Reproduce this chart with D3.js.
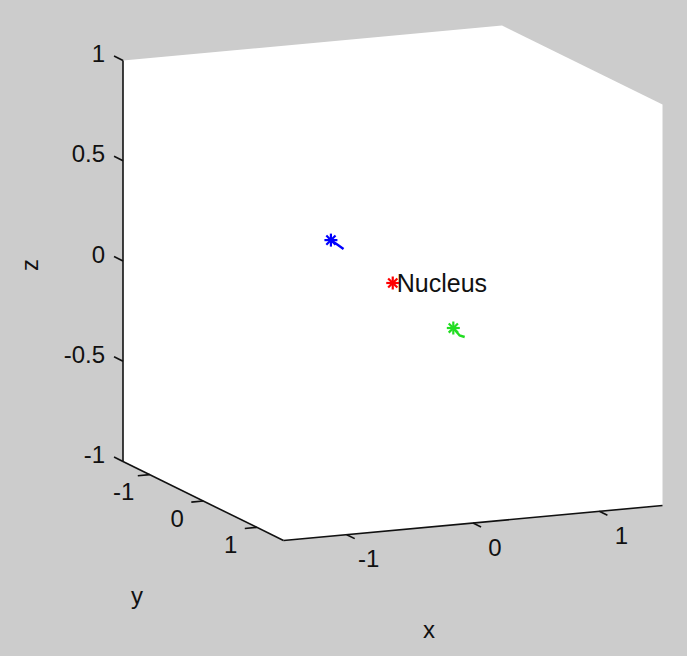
<!DOCTYPE html>
<meta charset="utf-8">
<script src="https://d3js.org/d3.v7.min.js"></script>
<style>
  body { margin: 0; background: #cccccc; }
  text { font-family: "Liberation Sans", Arial, sans-serif; font-size: 24px; fill: #111; }
</style>
<div id="chart"></div>
<script>

// axis limits and ticks
var xLim = [-1.5, 1.5], yLim = [-1.5, 1.5], zLim = [-1, 1];
var xTicks = [-1, 0, 1];
var yTicks = [-1, 0, 1];
var zTicks = [-1, -0.5, 0, 0.5, 1];

// nucleus, and each electron: current position first, then its short trail
var nucleus = [0, 0, 0];
var blueTrail  = [[-0.32, -0.4, 0.18], [-0.27, -0.4, 0.155], [-0.22, -0.4, 0.13]];
var greenTrail = [[0.31, 0.4, -0.19], [0.36, 0.4, -0.23], [0.40, 0.4, -0.24]];

var width = 687, height = 656;

var svg = d3.select("#chart").append("svg")
  .attr("width", width)
  .attr("height", height)
  .style("display", "block");

svg.append("rect").attr("width", width).attr("height", height).attr("fill", "#cccccc");

// box frame on screen: corner (xmin,ymin,zmin) and the three box edges
var corner = [123, 461.5];
var ex = [379, -35], ey = [160.5, 79], ez = [0, -401];

var xs = d3.scaleLinear().domain(xLim).range([0, 1]);
var ys = d3.scaleLinear().domain(yLim).range([0, 1]);
var zs = d3.scaleLinear().domain(zLim).range([0, 1]);

function proj(p) {
  var a = xs(p[0]), b = ys(p[1]), c = zs(p[2]);
  return [corner[0] + a * ex[0] + b * ey[0] + c * ez[0],
          corner[1] + a * ex[1] + b * ey[1] + c * ez[1]];
}
function unit(v) { var l = Math.hypot(v[0], v[1]); return [v[0] / l, v[1] / l]; }

var x0 = xLim[0], x1 = xLim[1], y0 = yLim[0], y1 = yLim[1], z0 = zLim[0], z1 = zLim[1];

// white plot box (outline of the projected cube)
var hull = [[x0, y0, z1], [x1, y0, z1], [x1, y1, z1], [x1, y1, z0], [x0, y1, z0], [x0, y0, z0]].map(proj);
svg.append("polygon")
  .attr("points", hull.map(function(d) { return d.join(","); }).join(" "))
  .attr("fill", "#ffffff");

var axisG = svg.append("g").attr("stroke", "#111").attr("stroke-width", 1.6).attr("fill", "none");
function seg(p, q) {
  axisG.append("line").attr("x1", p[0]).attr("y1", p[1]).attr("x2", q[0]).attr("y2", q[1]);
}

// axis lines
seg(proj([x0, y0, z0]), proj([x0, y0, z1]));   // z
seg(proj([x0, y0, z0]), proj([x0, y1, z0]));   // y
seg(proj([x0, y1, z0]), proj([x1, y1, z0]));   // x

var dirMinusY = unit([-ey[0], -ey[1]]);
var dirMinusX = unit([-ex[0], -ex[1]]);
var dirPlusY  = unit(ey);

// z ticks and labels
zTicks.forEach(function(t) {
  var p = proj([x0, y0, t]);
  seg(p, [p[0] + dirMinusY[0] * 10, p[1] + dirMinusY[1] * 10]);
  svg.append("text")
    .attr("x", 105)
    .attr("y", p[1] - 7 + 8.5)
    .attr("text-anchor", "end")
    .text(String(t));
});

// y ticks and labels
yTicks.forEach(function(t) {
  var p = proj([x0, t, z0]);
  seg(p, [p[0] + dirMinusX[0] * 12, p[1] + dirMinusX[1] * 12]);
  svg.append("text")
    .attr("x", p[0] - 26)
    .attr("y", p[1] + 17 + 8.5)
    .attr("text-anchor", "middle")
    .text(String(t));
});

// x ticks and labels
xTicks.forEach(function(t) {
  var p = proj([t, y1, z0]);
  seg(p, [p[0] + dirPlusY[0] * 9, p[1] + dirPlusY[1] * 9]);
  svg.append("text")
    .attr("x", p[0] + 22)
    .attr("y", p[1] + 24 + 8.5)
    .attr("text-anchor", "middle")
    .text(String(t));
});

// axis labels
svg.append("text").attr("transform", "translate(38,265) rotate(-90)").attr("text-anchor", "middle").text("z");
svg.append("text").attr("x", 137).attr("y", 604).attr("text-anchor", "middle").text("y");
svg.append("text").attr("x", 429).attr("y", 638).attr("text-anchor", "middle").text("x");

// asterisk marker
function star(p, color) {
  var r = 6.5, g = svg.append("g").attr("stroke", color).attr("stroke-width", 2.2);
  [0, 45, 90, 135].forEach(function(a) {
    var c = Math.cos(a * Math.PI / 180) * r, s = Math.sin(a * Math.PI / 180) * r;
    g.append("line").attr("x1", p[0] - c).attr("y1", p[1] - s).attr("x2", p[0] + c).attr("y2", p[1] + s);
  });
}

var line = d3.line().x(function(d) { return proj(d)[0]; }).y(function(d) { return proj(d)[1]; });

[[blueTrail, "#0000ff"], [greenTrail, "#22dd22"]].forEach(function(e) {
  svg.append("path").attr("d", line(e[0])).attr("fill", "none")
    .attr("stroke", e[1]).attr("stroke-width", 2.4);
  star(proj(e[0][0]), e[1]);
});

var np = proj(nucleus);
star(np, "#ff0000");
svg.append("text")
  .attr("x", np[0] + 4)
  .attr("y", np[1] + 8.5)
  .style("font-size", "25px")
  .text("Nucleus");

</script>
